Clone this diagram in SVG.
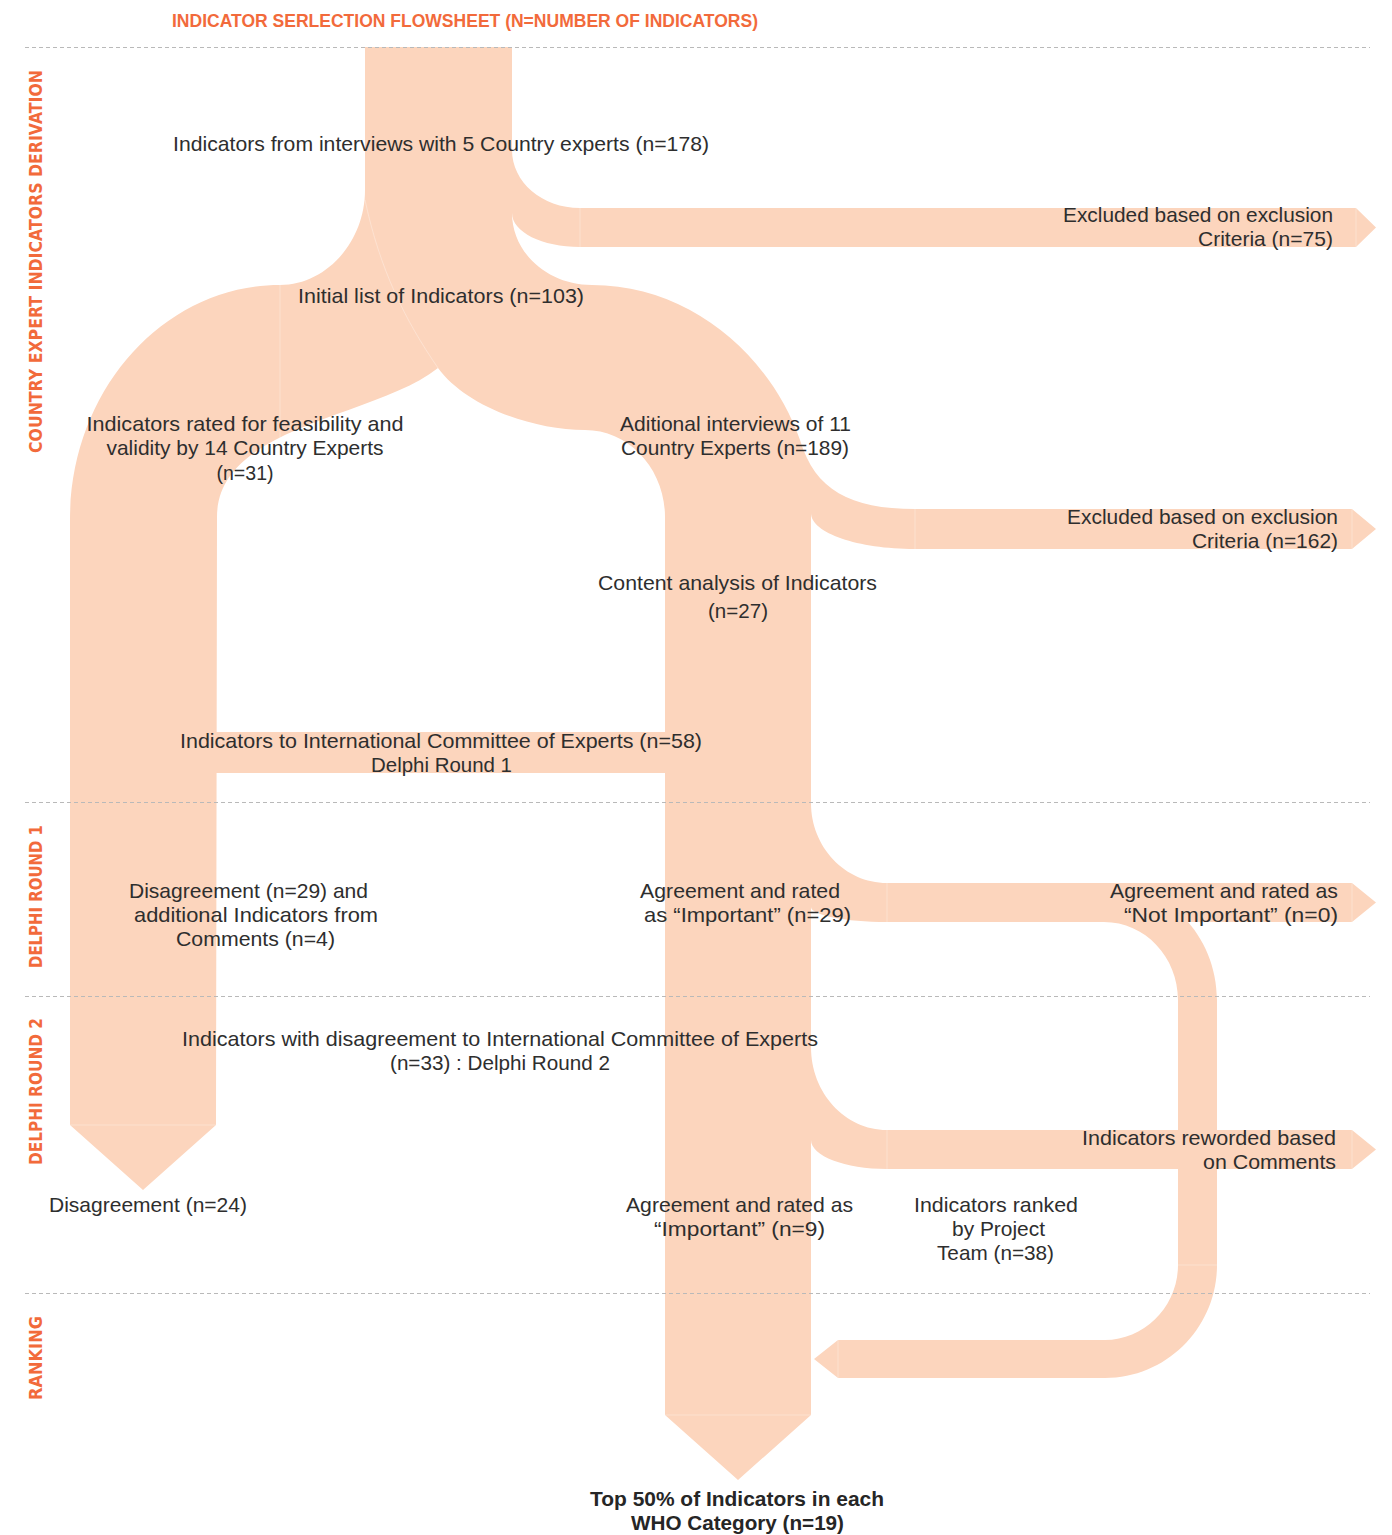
<svg xmlns="http://www.w3.org/2000/svg" width="1392" height="1535" viewBox="0 0 1392 1535">
<style>
.flow{fill:#FCD5BD}
.seam{stroke:#ffffff;stroke-opacity:0.3;stroke-width:1;fill:none}
.dash{stroke:#b9b9b9;stroke-width:1.2;stroke-dasharray:4 3;fill:none}
.t{font-family:"Liberation Sans",Arial,sans-serif;font-size:21px;fill:#2e2e2e}
.m{text-anchor:middle}
.e{text-anchor:end}
.b{font-weight:bold;fill:#262626}
.title{font-family:"Liberation Sans",Arial,sans-serif;font-size:17.5px;font-weight:bold;fill:#F26A3B}
.side{font-family:"DejaVu Sans","Liberation Sans",sans-serif;font-size:18px;font-weight:bold;fill:#F26A3B}
</style>
<rect width="1392" height="1535" fill="#ffffff"/>

<g id="connectors">
  <path id="flow-main" class="flow" d="M365,47 L512,47 L512,213 C512,253 548,285 592,285 C690,285 770,355 800,440 C815,490 850,509 915,509 L1352,509 L1376,529 L1352,549 L915,549 C858,549 811,533 811,513 L811,1415 L738,1480 L665,1415 L665,517 C665,469 629,430 585,430 C530,430 465,405 438,368 C375,418 217,425 217,517 L216,1125 L143,1190 L70,1125 L70,520 C70,390 164,285 280,285 C326,285 365,242 365,190 Z"/>
  <path id="flow-excl75" class="flow" d="M512,150 C512,182 542,208 580,208 L1356,208 L1376,227.5 L1356,247 L580,247 C542,247 512,232 512,213 Z"/>
  <rect id="flow-delphi1" class="flow" x="216" y="732" width="449" height="41"/>
  <path id="flow-agree29" class="flow" d="M811,803 C811,847 845,883 887,883 L1352,883 L1376,902.5 L1352,922 L887,922 C845,922 811,915 811,907 Z"/>
  <path id="flow-ranked" class="flow" d="M1104,883 C1166,883 1217,935 1217,1000 L1217,1265 C1217,1327 1167,1378 1105,1378 L838,1378 L814,1359 L838,1340 L1105,1340 C1145,1340 1178,1306 1178,1265 L1178,1000 C1178,957 1145,922 1104,922 Z"/>
  <path id="flow-reworded" class="flow" d="M811,1047 C811,1093 845,1130 887,1130 L1352,1130 L1376,1149.5 L1352,1169 L887,1169 C845,1169 811,1156 811,1140 Z"/>
  <g id="seams">
    <path class="seam" d="M580,208 V247 M1356,208 V247 M915,509 V549 M1352,509 V549 M887,883 V922 M1352,883 V922 M887,1130 V1169 M1352,1130 V1169 M1178,1265 H1217 M838,1340 V1378 M70,1125 H216 M665,1415 H811 M280,285 V460 M365,200 C380,270 405,320 438,368"/>
  </g>
</g>

<g id="dividers">
  <line class="dash" x1="25" y1="47.5" x2="1370" y2="47.5"/>
  <line class="dash" x1="25" y1="802.5" x2="1370" y2="802.5"/>
  <line class="dash" x1="25" y1="996.5" x2="1370" y2="996.5"/>
  <line class="dash" x1="25" y1="1293.5" x2="1370" y2="1293.5"/>
</g>

<g id="title">
  <text class="title" x="465" y="27" text-anchor="middle" textLength="586" lengthAdjust="spacingAndGlyphs">INDICATOR SERLECTION FLOWSHEET (N=NUMBER OF INDICATORS)</text>
</g>

<g id="phases">
  <text class="side" transform="translate(42,453) rotate(-90)" textLength="383" lengthAdjust="spacingAndGlyphs">COUNTRY EXPERT INDICATORS DERIVATION</text>
  <text class="side" transform="translate(42,968) rotate(-90)" textLength="143" lengthAdjust="spacingAndGlyphs">DELPHI ROUND 1</text>
  <text class="side" transform="translate(42,1165) rotate(-90)" textLength="147" lengthAdjust="spacingAndGlyphs">DELPHI ROUND 2</text>
  <text class="side" transform="translate(42,1400) rotate(-90)" textLength="84" lengthAdjust="spacingAndGlyphs">RANKING</text>
</g>

<g id="node-interviews5">
  <text class="t m" x="441" y="151" textLength="536" lengthAdjust="spacingAndGlyphs">Indicators from interviews with 5 Country experts (n=178)</text>
</g>
<g id="node-excluded75">
  <text class="t e" x="1333" y="222" textLength="270" lengthAdjust="spacingAndGlyphs">Excluded based on exclusion</text>
  <text class="t e" x="1333" y="246" textLength="135" lengthAdjust="spacingAndGlyphs">Criteria (n=75)</text>
</g>
<g id="node-initial">
  <text class="t m" x="441" y="303" textLength="286" lengthAdjust="spacingAndGlyphs">Initial list of Indicators (n=103)</text>
</g>
<g id="node-rated14">
  <text class="t m" x="245" y="431" textLength="317" lengthAdjust="spacingAndGlyphs">Indicators rated for feasibility and</text>
  <text class="t m" x="245" y="455" textLength="277" lengthAdjust="spacingAndGlyphs">validity by 14 Country Experts</text>
  <text class="t m" x="245" y="480" textLength="57" lengthAdjust="spacingAndGlyphs">(n=31)</text>
</g>
<g id="node-interviews11">
  <text class="t m" x="735.5" y="431" textLength="231" lengthAdjust="spacingAndGlyphs">Aditional interviews of 11</text>
  <text class="t m" x="735" y="455" textLength="228" lengthAdjust="spacingAndGlyphs">Country Experts (n=189)</text>
</g>
<g id="node-excluded162">
  <text class="t e" x="1338" y="524" textLength="271" lengthAdjust="spacingAndGlyphs">Excluded based on exclusion</text>
  <text class="t e" x="1338" y="548" textLength="146" lengthAdjust="spacingAndGlyphs">Criteria (n=162)</text>
</g>
<g id="node-content">
  <text class="t m" x="737.5" y="590" textLength="279" lengthAdjust="spacingAndGlyphs">Content analysis of Indicators</text>
  <text class="t m" x="738" y="618" textLength="60" lengthAdjust="spacingAndGlyphs">(n=27)</text>
</g>
<g id="node-delphi1">
  <text class="t m" x="441" y="748" textLength="522" lengthAdjust="spacingAndGlyphs">Indicators to International Committee of Experts (n=58)</text>
  <text class="t m" x="441.5" y="772" textLength="141" lengthAdjust="spacingAndGlyphs">Delphi Round 1</text>
</g>
<g id="node-disagree29">
  <text class="t m" x="248.5" y="898" textLength="239" lengthAdjust="spacingAndGlyphs">Disagreement (n=29) and</text>
  <text class="t m" x="256" y="922" textLength="244" lengthAdjust="spacingAndGlyphs">additional Indicators from</text>
  <text class="t m" x="255.5" y="946" textLength="159" lengthAdjust="spacingAndGlyphs">Comments (n=4)</text>
</g>
<g id="node-agree29">
  <text class="t m" x="740" y="898" textLength="200" lengthAdjust="spacingAndGlyphs">Agreement and rated</text>
  <text class="t m" x="747.5" y="922" textLength="207" lengthAdjust="spacingAndGlyphs">as “Important” (n=29)</text>
</g>
<g id="node-notimportant">
  <text class="t e" x="1338" y="898" textLength="228" lengthAdjust="spacingAndGlyphs">Agreement and rated as</text>
  <text class="t e" x="1338" y="922" textLength="214" lengthAdjust="spacingAndGlyphs">“Not Important” (n=0)</text>
</g>
<g id="node-delphi2">
  <text class="t m" x="500" y="1046" textLength="636" lengthAdjust="spacingAndGlyphs">Indicators with disagreement to International Committee of Experts</text>
  <text class="t m" x="500" y="1070" textLength="220" lengthAdjust="spacingAndGlyphs">(n=33) : Delphi Round 2</text>
</g>
<g id="node-reworded">
  <text class="t e" x="1336" y="1145" textLength="254" lengthAdjust="spacingAndGlyphs">Indicators reworded based</text>
  <text class="t e" x="1336" y="1169" textLength="133" lengthAdjust="spacingAndGlyphs">on Comments</text>
</g>
<g id="node-disagree24">
  <text class="t m" x="148" y="1212" textLength="198" lengthAdjust="spacingAndGlyphs">Disagreement (n=24)</text>
</g>
<g id="node-agree9">
  <text class="t m" x="739.5" y="1212" textLength="227" lengthAdjust="spacingAndGlyphs">Agreement and rated as</text>
  <text class="t m" x="739.5" y="1236" textLength="171" lengthAdjust="spacingAndGlyphs">“Important” (n=9)</text>
</g>
<g id="node-ranked">
  <text class="t m" x="996" y="1212" textLength="164" lengthAdjust="spacingAndGlyphs">Indicators ranked</text>
  <text class="t m" x="998.5" y="1236" textLength="93" lengthAdjust="spacingAndGlyphs">by Project</text>
  <text class="t m" x="995.5" y="1260" textLength="117" lengthAdjust="spacingAndGlyphs">Team (n=38)</text>
</g>
<g id="node-top50">
  <text class="t m b" x="737" y="1506" textLength="294" lengthAdjust="spacingAndGlyphs">Top 50% of Indicators in each</text>
  <text class="t m b" x="737.5" y="1530" textLength="213" lengthAdjust="spacingAndGlyphs">WHO Category (n=19)</text>
</g>
</svg>
